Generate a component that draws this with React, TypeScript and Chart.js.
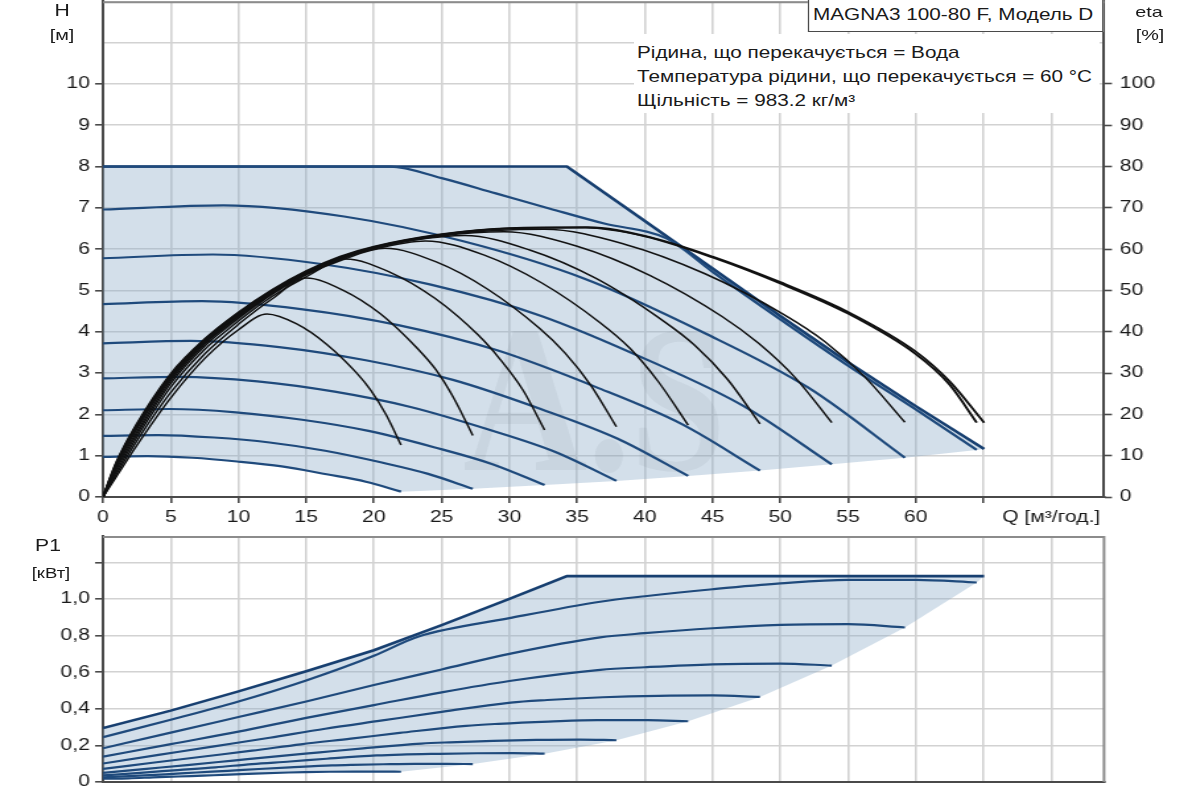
import { useEffect, useRef } from "react";
import Chart from "chart.js/auto";

type Pt = [number, number];

// Q [m3/h] -> H [m], one list per speed curve (H1 lowest ... H9 top speed)
const H1: Pt[] = [[0, 0.97], [3.3, 0.99], [6.6, 0.95], [9.9, 0.86], [13.2, 0.74], [16.5, 0.55], [19.4, 0.37], [22, 0.13]];
const H2: Pt[] = [[0, 1.48], [4.1, 1.5], [8.2, 1.44], [12.3, 1.32], [16.4, 1.12], [20.5, 0.84], [24, 0.56], [27.3, 0.2]];
const H3: Pt[] = [[0, 2.1], [4.9, 2.13], [9.8, 2.05], [14.7, 1.87], [19.6, 1.6], [24.5, 1.2], [28.7, 0.8], [32.6, 0.29]];
const H4: Pt[] = [[0, 2.87], [5.7, 2.91], [11.4, 2.8], [17.1, 2.55], [22.7, 2.18], [28.4, 1.64], [33.4, 1.09], [37.9, 0.39]];
const H5: Pt[] = [[0, 3.72], [6.5, 3.78], [13, 3.63], [19.4, 3.31], [25.9, 2.83], [32.4, 2.12], [38, 1.41], [43.2, 0.51]];
const H6: Pt[] = [[0, 4.67], [7.3, 4.74], [14.6, 4.55], [21.8, 4.16], [29.1, 3.55], [36.4, 2.66], [42.7, 1.77], [48.5, 0.64]];
const H7: Pt[] = [[0, 5.78], [8.1, 5.87], [16.1, 5.64], [24.2, 5.14], [32.3, 4.39], [40.4, 3.29], [47.3, 2.2], [53.8, 0.79]];
const H8: Pt[] = [[0, 6.96], [8.9, 7.06], [17.8, 6.79], [26.6, 6.19], [35.5, 5.29], [44.4, 3.97], [52.1, 2.64], [59.2, 0.95]];
const H9: Pt[] = [[0, 8], [21.2, 8], [25, 7.72], [29, 7.35], [33, 6.98], [37, 6.62], [41.6, 6.26], [45, 5.45], [50, 4.3], [55, 3.18], [60, 2.12], [64.5, 1.14]];
const H_MAX: Pt[] = [[0, 8], [34.25, 8], [40, 6.68], [45, 5.53], [50, 4.38], [55, 3.26], [60, 2.2], [65.05, 1.16]];

// Q [m3/h] -> eta [%]
const E1: Pt[] = [[0, 0], [1, 5], [2.5, 12.5], [5, 24], [7.5, 33.5], [10, 40.5], [12.1, 44.3], [14.3, 41.9], [16.5, 37], [18.7, 30.1], [19.8, 25.7], [20.9, 19.9], [22, 12.6]];
const E2: Pt[] = [[0, 0], [1, 5.6], [2.5, 13.6], [5, 25.3], [7.5, 34.6], [10, 41.8], [12.5, 48], [15, 53], [17.7, 50.1], [20.5, 44.3], [23.2, 36], [24.6, 30.7], [25.9, 23.9], [27.3, 14.9]];
const E3: Pt[] = [[0, 0], [1, 6.2], [2.5, 14.5], [5, 26.6], [7.5, 35.7], [10, 42.6], [12.5, 48.6], [15, 53.3], [17.9, 57.6], [21.2, 54.4], [24.5, 48.1], [27.7, 39.2], [29.3, 33.4], [31, 25.9], [32.6, 16.2]];
const E4: Pt[] = [[0, 0], [1, 6.8], [2.5, 15.2], [5, 27.5], [7.5, 36.5], [10, 43.2], [12.5, 49.1], [15, 53.8], [17.5, 57.2], [20.8, 60.2], [24.6, 56.9], [28.4, 50.3], [32.2, 40.9], [34.1, 34.9], [36, 27.1], [37.9, 17]];
const E5: Pt[] = [[0, 0], [1, 7.3], [2.5, 15.8], [5, 28.1], [7.5, 37], [10, 43.6], [12.5, 49.3], [15, 54], [17.5, 57.5], [20, 60], [23.8, 62], [28.1, 58.6], [32.4, 51.8], [36.7, 42.2], [38.9, 36], [41, 27.9], [43.2, 17.4]];
const E6: Pt[] = [[0, 0], [1, 7.7], [2.5, 16.5], [5, 28.6], [7.5, 37.3], [10, 43.8], [12.5, 49.4], [15, 54], [17.5, 57.6], [20, 60.2], [23, 62.2], [26.7, 63.3], [31.5, 59.8], [36.4, 52.9], [41.2, 43], [43.7, 36.7], [46.1, 28.5], [48.5, 17.7]];
const E7: Pt[] = [[0, 0], [1, 7.9], [2.5, 16.8], [5, 28.9], [7.5, 37.5], [10, 44], [12.5, 49.6], [15, 54.1], [17.5, 57.7], [20, 60.3], [25, 63.2], [29.6, 64.2], [35, 60.7], [40.4, 53.6], [45.7, 43.7], [48.4, 37.2], [51.1, 28.9], [53.8, 18]];
const E8: Pt[] = [[0, 0], [1, 8.1], [2.5, 17.1], [5, 29.2], [7.5, 37.8], [10, 44.3], [12.5, 49.8], [15, 54.3], [17.5, 57.8], [20, 60.4], [25, 63.4], [29, 64.5], [32.6, 64.8], [38.5, 61.2], [44.4, 54.1], [50.3, 44.1], [53.3, 37.6], [56.2, 29.2], [59.2, 18.1]];
const E9: Pt[] = [[0, 0], [1, 8.3], [2.5, 17.4], [5, 29.5], [7.5, 38], [10, 44.5], [12.5, 50], [15, 54.5], [17.5, 58], [20, 60.5], [25, 63.5], [30, 65], [35.6, 65.2], [40, 63.1], [45, 58], [50, 51.7], [55, 44.4], [60, 34.6], [62.5, 27.2], [64.5, 18]];
const E10: Pt[] = [[0, 0], [1, 8.5], [2.5, 17.7], [5, 29.8], [7.5, 38.2], [10, 44.7], [12.5, 50.2], [15, 54.7], [17.5, 58.2], [20, 60.6], [25, 63.6], [30, 65.1], [35.8, 65.3], [40, 63.2], [45, 58.2], [50, 52], [55, 44.8], [60, 35.2], [62.5, 28], [65.05, 18]];

// Q [m3/h] -> P1 [kW]
const P1: Pt[] = [[0, 0.018], [1.9, 0.02], [3.7, 0.025], [5.6, 0.03], [7.4, 0.035], [9.3, 0.04], [11.2, 0.046], [13.7, 0.052], [14.9, 0.054], [16.7, 0.056], [18.6, 0.057], [20.5, 0.057], [22, 0.056]];
const P2: Pt[] = [[0, 0.026], [2.3, 0.033], [4.6, 0.042], [6.9, 0.052], [9.2, 0.061], [11.5, 0.071], [13.8, 0.08], [16.9, 0.091], [18.4, 0.094], [20.7, 0.097], [23, 0.099], [25.4, 0.099], [27.3, 0.098]];
const P3: Pt[] = [[0, 0.036], [2.75, 0.05], [5.5, 0.065], [8.3, 0.08], [11, 0.098], [13.8, 0.112], [16.5, 0.127], [20.2, 0.145], [22, 0.15], [24.8, 0.154], [27.6, 0.157], [30.3, 0.158], [32.6, 0.155]];
const P4: Pt[] = [[0, 0.05], [3.2, 0.072], [6.4, 0.094], [9.6, 0.117], [12.8, 0.14], [16, 0.162], [19.2, 0.184], [23.5, 0.21], [25.6, 0.217], [28.8, 0.225], [32, 0.23], [35.2, 0.232], [37.9, 0.228]];
const P5: Pt[] = [[0, 0.072], [3.65, 0.105], [7.3, 0.138], [11, 0.171], [14.6, 0.206], [18.3, 0.237], [21.9, 0.268], [26.8, 0.307], [29.2, 0.318], [32.9, 0.33], [36.5, 0.338], [40.2, 0.338], [43.2, 0.332]];
const P6: Pt[] = [[0, 0.101], [4.1, 0.148], [8.2, 0.195], [12.3, 0.242], [16.4, 0.291], [20.5, 0.335], [24.6, 0.379], [30.1, 0.434], [32.8, 0.448], [36.9, 0.463], [41, 0.471], [45, 0.473], [48.5, 0.465]];
const P7: Pt[] = [[0, 0.138], [5, 0.207], [10, 0.275], [15, 0.35], [20, 0.42], [25, 0.49], [30, 0.552], [36.7, 0.613], [40, 0.627], [45, 0.643], [50, 0.647], [53.8, 0.636]];
const P8: Pt[] = [[0, 0.184], [5, 0.27], [10, 0.355], [15, 0.44], [20, 0.53], [25, 0.615], [30, 0.7], [36.7, 0.79], [40, 0.813], [45, 0.84], [50, 0.858], [55, 0.862], [59.2, 0.844]];
const P9: Pt[] = [[0, 0.245], [5, 0.34], [10, 0.44], [15, 0.555], [20, 0.69], [23.3, 0.795], [30, 0.895], [36.7, 0.985], [40, 1.015], [45, 1.053], [50, 1.085], [55, 1.104], [60, 1.104], [64.5, 1.09]];
const P_MAX: Pt[] = [[0, 0.295], [5, 0.39], [10, 0.495], [15, 0.605], [20, 0.72], [25, 0.857], [30, 1.0], [34.25, 1.125], [65.05, 1.125]];

const Q_TITLE = "Q [м³/год.]";
const PUMP = "MAGNA3 100-80 F, Модель D";
const INFO = [
  "Рідина, що перекачується = Вода",
  "Температура рідини, що перекачується = 60 °C",
  "Щільність = 983.2 кг/м³",
];
const WATERMARK = "A.S";

const H_CURVES = [H1, H2, H3, H4, H5, H6, H7, H8, H9];
const ETA_CURVES = [E1, E2, E3, E4, E5, E6, E7, E8, E9, E10];
const P_CURVES = [P1, P2, P3, P4, P5, P6, P7, P8, P9];

// the picture is stretched sideways, so draw narrow and scale the whole page
const S = 1.32;
const W = 1200 / S;
const LEFT_W = 103 / S;
const RIGHT_W = 96 / S;
const Q_MAX = 73.9;

const FONT = '"Liberation Sans", Arial, sans-serif';
const BLUE = "#1f4a7c";
const BLUE_DARK = "#173f70";
const ETA_COLOR = "#111111";
const SHADE = "rgba(140, 170, 200, 0.38)";
const GRID = "#d2d2d2";
const AXIS = "#4a4a4a";
const TICK = "#1a1a1a";
const NONE = "rgba(0,0,0,0)";

const pts = (a: Pt[]) => a.map(([x, y]) => ({ x, y }));
const last = (a: Pt[]) => a[a.length - 1];

const H_SHADE: Pt[] = [...H_MAX, ...[H9, H8, H7, H6, H5, H4, H3, H2].map(last), ...[...H1].reverse()];
const P_SHADE: Pt[] = [...P_MAX, ...[P9, P8, P7, P6, P5, P4, P3, P2].map(last), ...[...P1].reverse()];

const tickFont = { family: FONT, size: 16 };

function curve(data: Pt[], color: string, width: number, axis: string, order: number) {
  return {
    data: pts(data),
    borderColor: color,
    borderWidth: width,
    pointRadius: 0,
    yAxisID: axis,
    order,
    fill: false,
    cubicInterpolationMode: "monotone",
  };
}

function shape(data: Pt[], axis: string) {
  return {
    data: pts(data),
    yAxisID: axis,
    order: 3,
    fill: "shape",
    backgroundColor: SHADE,
    borderWidth: 0,
    pointRadius: 0,
    tension: 0,
  };
}

const frame = (withRight: boolean) => ({
  id: "frame",
  afterDatasetsDraw(chart: any) {
    const { ctx, chartArea: a } = chart;
    ctx.save();
    ctx.strokeStyle = "#8c8c8c";
    ctx.lineWidth = 2;
    ctx.beginPath();
    ctx.moveTo(a.left, a.top + 1);
    ctx.lineTo(a.right, a.top + 1);
    if (withRight) ctx.lineTo(a.right, a.bottom);
    ctx.stroke();
    ctx.restore();
  },
});

const watermark = {
  id: "watermark",
  beforeDatasetsDraw(chart: any) {
    const { ctx } = chart;
    ctx.save();
    ctx.font = 'bold 210px "Liberation Serif", serif';
    const w = ctx.measureText(WATERMARK).width;
    ctx.translate(463 / S, 470);
    ctx.scale(263 / S / w, 1);
    ctx.fillStyle = "rgba(80, 80, 80, 0.09)";
    ctx.fillText(WATERMARK, 0, 0);
    ctx.restore();
  },
};

function HeadChart() {
  const chartRef = useRef<HTMLCanvasElement | null>(null);
  useEffect(() => {
    const canvas = chartRef.current;
    if (!canvas) return;
    const chart = new Chart(canvas, {
      type: "line",
      data: {
        datasets: [
          ...ETA_CURVES.map((c, i) => curve(c, ETA_COLOR, i >= 8 ? 1.9 : 1.5, "eta", 1)),
          ...H_CURVES.map((c) => curve(c, BLUE, 2.2, "y", 2)),
          { ...curve(H_MAX, BLUE_DARK, 2.6, "y", 2), cubicInterpolationMode: "default", tension: 0 },
          shape(H_SHADE, "y"),
        ],
      } as any,
      options: {
        animation: false,
        responsive: true,
        maintainAspectRatio: false,
        events: [],
        layout: { padding: 0 },
        plugins: { legend: { display: false }, tooltip: { enabled: false } },
        scales: {
          x: {
            type: "linear",
            min: 0,
            max: Q_MAX,
            afterFit: (s: any) => {
              s.height = 38;
              s.paddingLeft = 0;
              s.paddingRight = 0;
            },
            ticks: {
              stepSize: 5,
              includeBounds: false,
              autoSkip: false,
              maxRotation: 0,
              padding: 5,
              color: TICK,
              font: tickFont,
              callback: (v: any) => (v <= 60 ? String(v) : v === 70 ? Q_TITLE : []),
            },
            grid: {
              color: GRID,
              lineWidth: 1.6,
              tickLength: 6,
              tickWidth: 1.6,
              tickColor: (c: any) => (c.tick && c.tick.value === 70 ? NONE : AXIS),
            },
            border: { color: AXIS, width: 2 },
          },
          y: {
            type: "linear",
            position: "left",
            min: 0,
            max: 12,
            afterFit: (s: any) => {
              s.width = LEFT_W;
              s.paddingTop = 0;
              s.paddingBottom = 0;
            },
            ticks: {
              stepSize: 1,
              padding: 4,
              color: TICK,
              font: tickFont,
              callback: (v: any) => (v <= 10 ? String(v) : []),
            },
            grid: {
              color: GRID,
              lineWidth: 1.6,
              tickLength: 6,
              tickWidth: 1.6,
              tickColor: (c: any) => (c.tick && c.tick.value > 10 ? NONE : AXIS),
            },
            border: { color: AXIS, width: 2 },
          },
          eta: {
            type: "linear",
            position: "right",
            min: 0,
            max: 120,
            afterFit: (s: any) => {
              s.width = RIGHT_W;
              s.paddingTop = 0;
              s.paddingBottom = 0;
            },
            ticks: {
              stepSize: 10,
              padding: 6,
              color: TICK,
              font: tickFont,
              callback: (v: any) => (v <= 100 ? String(v) : []),
            },
            grid: {
              drawOnChartArea: false,
              tickLength: 6,
              tickWidth: 1.6,
              tickColor: (c: any) => (c.tick && c.tick.value > 100 ? NONE : AXIS),
            },
            border: { color: AXIS, width: 2 },
          },
        },
      } as any,
      plugins: [watermark, frame(false)],
    });
    return () => {
      chart.destroy();
    };
  }, []);

  return (
    <div style={{ position: "absolute", left: 0, top: 0, width: W, height: 535 }}>
      <canvas ref={chartRef}></canvas>
    </div>
  );
}

function PowerChart() {
  const chartRef = useRef<HTMLCanvasElement | null>(null);
  useEffect(() => {
    const canvas = chartRef.current;
    if (!canvas) return;
    const chart = new Chart(canvas, {
      type: "line",
      data: {
        datasets: [
          ...P_CURVES.map((c) => curve(c, BLUE, 2.2, "y", 2)),
          { ...curve(P_MAX, BLUE_DARK, 2.6, "y", 2), cubicInterpolationMode: "default", tension: 0 },
          shape(P_SHADE, "y"),
        ],
      } as any,
      options: {
        animation: false,
        responsive: true,
        maintainAspectRatio: false,
        events: [],
        layout: { padding: { top: 6, right: RIGHT_W, left: 0, bottom: 0 } },
        plugins: { legend: { display: false }, tooltip: { enabled: false } },
        scales: {
          x: {
            type: "linear",
            min: 0,
            max: Q_MAX,
            afterFit: (s: any) => {
              s.height = 18;
              s.paddingLeft = 0;
              s.paddingRight = 0;
            },
            ticks: { display: false, stepSize: 5, includeBounds: false },
            grid: { color: GRID, lineWidth: 1.6, drawTicks: false },
            border: { color: AXIS, width: 2 },
          },
          y: {
            type: "linear",
            position: "left",
            min: 0,
            max: 1.344,
            afterFit: (s: any) => {
              s.width = LEFT_W;
              s.paddingTop = 0;
              s.paddingBottom = 0;
            },
            ticks: {
              stepSize: 0.2,
              includeBounds: false,
              padding: 4,
              color: TICK,
              font: tickFont,
              callback: (v: any) => (v === 0 ? "0" : v > 1.1 ? [] : Number(v).toFixed(1).replace(".", ",")),
            },
            grid: { color: GRID, lineWidth: 1.6, tickLength: 6, tickWidth: 1.6, tickColor: AXIS },
            border: { color: AXIS, width: 2 },
          },
        },
      } as any,
      plugins: [frame(true)],
    });
    return () => {
      chart.destroy();
    };
  }, []);

  return (
    <div style={{ position: "absolute", left: 0, top: 530, width: W, height: 270 }}>
      <canvas ref={chartRef}></canvas>
    </div>
  );
}

function Text({ x, y, size = 15.7, center = false, children }: any) {
  const style: any = {
    position: "absolute",
    top: y - size * 0.58,
    fontSize: size,
    lineHeight: `${Math.round(size * 1.15)}px`,
    whiteSpace: "nowrap",
    color: TICK,
  };
  if (center) {
    style.left = x / S - 60;
    style.width = 120;
    style.textAlign = "center";
  } else {
    style.left = x / S;
  }
  return <div style={style}>{children}</div>;
}

export default function App() {
  return (
    <div
      style={{
        position: "fixed",
        left: 0,
        top: 0,
        width: 1200,
        height: 800,
        overflow: "hidden",
        background: "#ffffff",
        fontFamily: FONT,
      }}
    >
      <div
        style={{
          position: "absolute",
          left: 0,
          top: 0,
          width: W,
          height: 800,
          transform: `scaleX(${S})`,
          transformOrigin: "0 0",
        }}
      >
        <HeadChart />
        <PowerChart />
        <div
          style={{
            position: "absolute",
            left: 633 / S,
            top: 34,
            width: 467 / S,
            height: 79,
            background: "#ffffff",
          }}
        />
        <div
          style={{
            position: "absolute",
            left: 808 / S,
            top: -2,
            width: 295 / S,
            height: 34,
            boxSizing: "border-box",
            border: "1.5px solid #4a4a4a",
            background: "#ffffff",
          }}
        />
        <Text x={813} y={15}>{PUMP}</Text>
        {INFO.map((line, i) => (
          <Text key={line} x={637} y={53 + i * 24}>
            {line}
          </Text>
        ))}
        <Text x={62} y={11} size={16} center>H</Text>
        <Text x={62} y={35} size={15} center>[м]</Text>
        <Text x={1149} y={12} size={15} center>eta</Text>
        <Text x={1150} y={35} size={15} center>[%]</Text>
        <Text x={48} y={546} size={16} center>P1</Text>
        <Text x={51} y={573} size={14} center>[кВт]</Text>
      </div>
    </div>
  );
}
